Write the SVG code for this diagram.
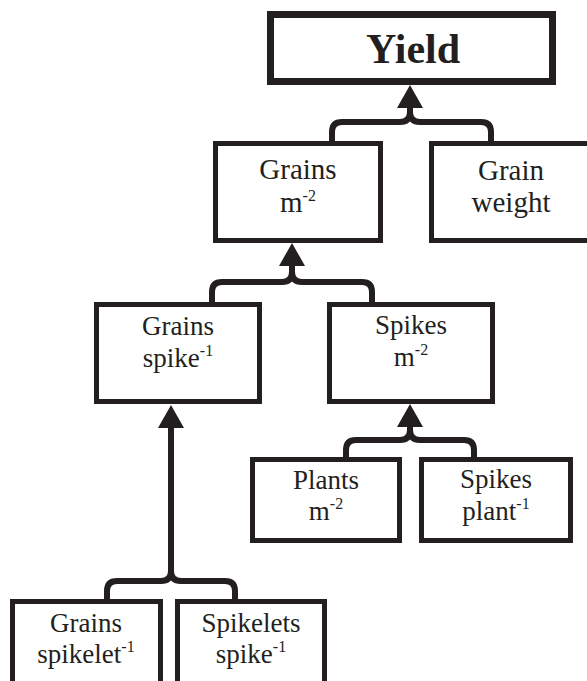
<svg xmlns="http://www.w3.org/2000/svg" width="587" height="681" viewBox="0 0 587 681">
<style>
.box{fill:#fff;stroke:#231f20;stroke-width:5}
.main{fill:#fff;stroke:#231f20;stroke-width:7}
.lbl{font-family:"Liberation Serif","Times New Roman",serif;fill:#231f20;text-anchor:middle}
.t1{font-size:29px}
.t2{font-size:27px}
.t3{font-size:27px}
.sup{font-size:16px}
.conn{fill:none;stroke:#231f20;stroke-width:6;stroke-linejoin:round}
.ah{fill:#231f20}
</style>
<defs>
<path id="ah" d="M0,0 L13,23 L-13,23 Z"/>
</defs>
<rect width="587" height="681" fill="#fff"/>
<g id="connectors">
<path class="conn" d="M332,142 V132 Q332,122 342,122 H400 Q410,122 410,112 V104 M491,142 V132 Q491,122 481,122 H420 Q410,122 410,112"/>
<use href="#ah" class="ah" x="410" y="85"/>
<path class="conn" d="M212,303 V292 Q212,282 222,282 H282 Q292,282 292,272 V264 M372,303 V292 Q372,282 362,282 H302 Q292,282 292,272"/>
<use href="#ah" class="ah" x="292" y="243"/>
<path class="conn" d="M346,458 V450 Q346,440 356,440 H400 Q410,440 410,430 V424 M474,458 V450 Q474,440 464,440 H420 Q410,440 410,430"/>
<use href="#ah" class="ah" x="410" y="404"/>
<path class="conn" d="M107,600 V591 Q107,581 117,581 H161 Q171,581 171,571 V426 M235,600 V591 Q235,581 225,581 H181 Q171,581 171,571"/>
<use href="#ah" class="ah" x="171" y="405"/>
</g>
<g id="yield">
<rect class="main" x="270.5" y="14.5" width="282" height="67"/>
<text class="lbl" x="413" y="63" font-size="42" font-weight="bold">Yield</text>
</g>
<g id="grains-m2">
<rect class="box" x="215.5" y="143.5" width="165" height="97"/>
<text class="lbl t1" x="298" y="179">Grains</text>
<text class="lbl t1" x="298" y="212">m<tspan class="sup" dy="-11">-2</tspan></text>
</g>
<g id="grain-weight">
<rect class="box" x="431.5" y="143.5" width="170" height="97"/>
<text class="lbl t1" x="511" y="180">Grain</text>
<text class="lbl t1" x="511" y="212">weight</text>
</g>
<g id="grains-spike">
<rect class="box" x="96.5" y="304.5" width="163" height="97"/>
<text class="lbl t2" x="178" y="335">Grains</text>
<text class="lbl t2" x="178" y="367">spike<tspan class="sup" dy="-11">-1</tspan></text>
</g>
<g id="spikes-m2">
<rect class="box" x="329.5" y="304.5" width="163" height="97"/>
<text class="lbl t2" x="411" y="334">Spikes</text>
<text class="lbl t2" x="411" y="366">m<tspan class="sup" dy="-11">-2</tspan></text>
</g>
<g id="plants-m2">
<rect class="box" x="252.5" y="459.5" width="147" height="81"/>
<text class="lbl t2" x="326" y="489">Plants</text>
<text class="lbl t2" x="326" y="520">m<tspan class="sup" dy="-11">-2</tspan></text>
</g>
<g id="spikes-plant">
<rect class="box" x="421.5" y="459.5" width="149" height="81"/>
<text class="lbl t2" x="496" y="488">Spikes</text>
<text class="lbl t2" x="496" y="520">plant<tspan class="sup" dy="-11">-1</tspan></text>
</g>
<g id="grains-spikelet">
<rect class="box" x="12.5" y="601.5" width="148" height="100"/>
<text class="lbl t3" x="86" y="632">Grains</text>
<text class="lbl t3" x="86" y="663">spikelet<tspan class="sup" dy="-11">-1</tspan></text>
</g>
<g id="spikelets-spike">
<rect class="box" x="177.5" y="601.5" width="147" height="100"/>
<text class="lbl t3" x="251" y="632">Spikelets</text>
<text class="lbl t3" x="251" y="663">spike<tspan class="sup" dy="-11">-1</tspan></text>
</g>
</svg>
